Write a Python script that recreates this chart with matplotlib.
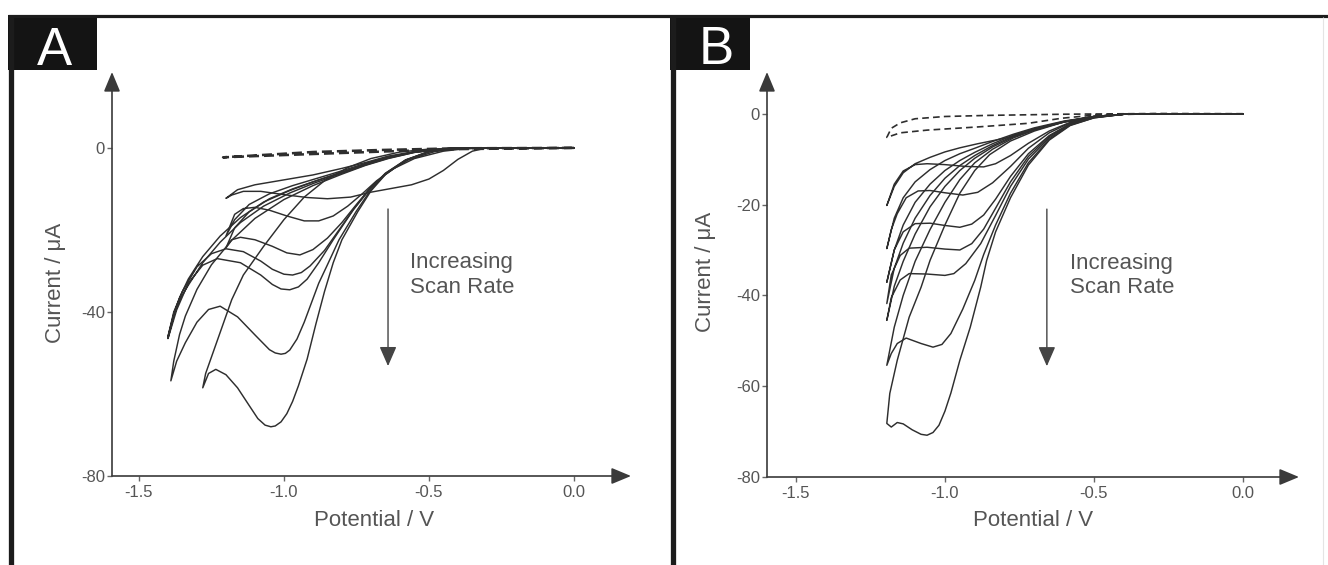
import matplotlib
matplotlib.use('Agg')
import matplotlib.pyplot as plt
from matplotlib.patches import Rectangle
from matplotlib.lines import Line2D

plt.rcParams['font.family'] = ['Liberation Sans', 'DejaVu Sans']

# ---------------- data: panel A (potential V, current uA) ----------------
A_blank_V = [0, -0.4, -0.66, -0.9, -1.21, -0.9, -0.66, -0.4, 0]
A_blank_I = [0, -0.3, -0.9, -1.5, -2.3, -1.0, -0.5, -0.1, 0]

A1_V = [0, -0.3, -0.35, -0.4, -0.45, -0.5, -0.56, -0.63, -0.7, -0.77, -0.85, -0.92, -1.0, -1.08, -1.14, -1.18, -1.2,
        -1.16, -1.1, -1.0, -0.9, -0.8, -0.72, -0.64, -0.55, -0.45, -0.3, 0]
A1_I = [0, 0, -0.8, -2.8, -5.5, -7.6, -9.0, -9.9, -10.8, -12.0, -12.4, -12.1, -11.4, -10.6, -10.6, -11.5, -12.3,
        -10.2, -9.0, -7.8, -6.6, -5.0, -3.6, -2.0, -0.9, -0.3, 0, 0]

A2_V = [0, -0.35, -0.45, -0.55, -0.62, -0.68, -0.73, -0.78, -0.83, -0.88, -0.93, -0.99, -1.05, -1.1, -1.14, -1.17, -1.2,
        -1.17, -1.12, -1.05, -0.97, -0.88, -0.8, -0.72, -0.64, -0.55, -0.45, -0.3, 0]
A2_I = [0, 0, -0.8, -2.6, -5.0, -8.0, -11.2, -14.2, -16.6, -17.8, -17.8, -16.6, -15.2, -14.5, -14.8, -16.2, -21.5,
        -17.5, -13.8, -11.2, -9.2, -7.3, -5.6, -3.8, -2.2, -1.0, -0.3, 0, 0]

A3_V = [0, -0.38, -0.48, -0.57, -0.64, -0.7, -0.75, -0.8, -0.85, -0.9, -0.945, -0.99, -1.04, -1.1, -1.15, -1.18, -1.2,
        -1.17, -1.12, -1.05, -0.97, -0.88, -0.8, -0.72, -0.64, -0.55, -0.45, -0.3, 0]
A3_I = [0, 0, -0.9, -2.9, -5.8, -9.6, -13.8, -18.2, -22.0, -24.8, -26.1, -25.6, -24.0, -22.4, -21.8, -22.4, -24.4,
        -19.5, -15.6, -12.4, -10.0, -7.8, -5.9, -4.0, -2.3, -1.0, -0.3, 0, 0]

A4_V = [0, -0.4, -0.5, -0.58, -0.65, -0.71, -0.76, -0.81, -0.86, -0.91, -0.94, -0.97, -1.0, -1.04, -1.08, -1.14, -1.2, -1.25,
        -1.3, -1.35, -1.38, -1.4,
        -1.38, -1.36, -1.33, -1.28, -1.22, -1.15, -1.07, -0.98, -0.9, -0.8, -0.72, -0.64, -0.55, -0.45, -0.3, 0]
A4_I = [0, 0, -1.0, -3.0, -6.2, -10.4, -15.0, -20.0, -25.0, -28.8, -30.4, -31.0, -30.8, -29.6, -27.6, -25.3, -24.6, -25.8,
        -29.0, -35.0, -40.0, -46.0,
        -40.5, -36.5, -32.0, -26.5, -21.5, -17.0, -13.2, -10.4, -8.3, -6.0, -4.1, -2.4, -1.0, -0.3, 0, 0]

A5_V = [0, -0.42, -0.5, -0.58, -0.65, -0.7, -0.76, -0.83, -0.88, -0.92, -0.95, -0.98, -1.01, -1.04, -1.08, -1.15, -1.23, -1.28,
        -1.33, -1.37, -1.4,
        -1.38, -1.36, -1.33, -1.28, -1.22, -1.15, -1.07, -0.98, -0.9, -0.8, -0.72, -0.64, -0.55, -0.45, -0.3, 0]
A5_I = [0, 0, -0.9, -2.9, -6.2, -9.8, -15.0, -22.4, -28.0, -32.0, -33.9, -34.6, -34.4, -33.3, -31.0, -28.0, -27.0, -28.6,
        -33.0, -39.5, -46.5,
        -41.0, -37.0, -33.5, -28.0, -23.0, -18.2, -14.2, -11.0, -8.7, -6.2, -4.2, -2.5, -1.1, -0.3, 0, 0]

A6_V = [0, -0.42, -0.5, -0.58, -0.65, -0.7, -0.75, -0.81, -0.85, -0.88, -0.91, -0.93, -0.955, -0.98, -0.995, -1.01, -1.03,
        -1.05, -1.1, -1.16, -1.22, -1.26, -1.3, -1.34, -1.37, -1.39,
        -1.38, -1.36, -1.34, -1.3, -1.25, -1.18, -1.1, -1.0, -0.9, -0.8, -0.72, -0.64, -0.55, -0.45, -0.3, 0]
A6_I = [0, 0, -0.9, -3.0, -6.4, -10.2, -15.4, -22.4, -28.5, -33.0, -38.7, -42.5, -46.6, -49.3, -50.1, -50.3, -50.0,
        -49.2, -45.6, -41.2, -38.6, -39.4, -42.5, -47.5, -52.0, -56.8,
        -52.0, -45.5, -41.0, -34.5, -28.5, -22.5, -17.2, -12.6, -9.2, -6.4, -4.3, -2.6, -1.1, -0.3, 0, 0]

A7_V = [0, -0.42, -0.5, -0.58, -0.65, -0.7, -0.745, -0.8, -0.83, -0.86, -0.89, -0.92, -0.95, -0.97, -0.99, -1.01, -1.03,
        -1.045, -1.065, -1.09, -1.12, -1.16, -1.2, -1.235, -1.26, -1.28,
        -1.27, -1.25, -1.22, -1.18, -1.14, -1.07, -1.0, -0.93, -0.86, -0.78, -0.7, -0.6, -0.5, -0.4, -0.3, 0]
A7_I = [0, 0, -0.9, -3.0, -6.5, -10.5, -15.5, -22.4, -28.0, -35.0, -43.0, -51.5, -58.0, -61.8, -64.8, -66.8, -67.8,
        -68.0, -67.6, -66.0, -62.8, -58.5, -55.3, -54.0, -55.0, -58.5,
        -55.0, -51.0, -45.0, -37.0, -31.0, -24.0, -17.5, -12.0, -8.0, -4.8, -2.6, -1.0, -0.3, -0.1, 0, 0]

# ---------------- data: panel B ----------------
B_blank_V = [0, -0.3, -0.6, -0.85, -1.0, -1.1, -1.15, -1.18, -1.195, -1.15, -1.06, -0.89, -0.72, -0.61, -0.5, -0.3, 0]
B_blank_I = [0, 0.05, -0.1, -0.35, -0.6, -1.1, -2.0, -3.2, -5.2, -4.2, -3.6, -2.9, -2.1, -1.0, -0.3, 0, 0]

B1_V = [0, -0.4, -0.5, -0.58, -0.65, -0.72, -0.78, -0.83, -0.87, -0.93, -1.0, -1.06, -1.1, -1.14, -1.17, -1.195,
        -1.17, -1.14, -1.1, -1.05, -1.0, -0.95, -0.89, -0.83, -0.78, -0.7, -0.67, -0.6, -0.56, -0.5, -0.4, 0]
B1_I = [0, -0.1, -0.7, -1.9, -3.8, -6.5, -9.2, -11.0, -11.7, -11.6, -11.2, -11.0, -11.2, -12.6, -15.5, -20.2,
        -16.0, -13.0, -11.0, -9.6, -8.4, -7.5, -6.6, -5.8, -5.1, -3.6, -2.9, -1.8, -1.4, -0.6, -0.1, 0]

B2_V = [0, -0.4, -0.5, -0.58, -0.65, -0.72, -0.78, -0.84, -0.89, -0.94, -1.0, -1.05, -1.09, -1.13, -1.16, -1.18, -1.195,
        -1.17, -1.14, -1.1, -1.05, -1.0, -0.95, -0.9, -0.84, -0.77, -0.7, -0.6, -0.5, -0.4, 0]
B2_I = [0, -0.1, -0.7, -2.0, -4.2, -7.6, -11.6, -15.2, -17.3, -17.9, -17.4, -16.9, -17.0, -18.5, -22.0, -25.5, -29.7,
        -23.0, -18.5, -15.0, -12.3, -10.3, -8.8, -7.6, -6.1, -4.5, -3.1, -1.6, -0.6, -0.1, 0]

B3_V = [0, -0.4, -0.5, -0.58, -0.65, -0.72, -0.78, -0.83, -0.87, -0.91, -0.95, -1.0, -1.05, -1.1, -1.14, -1.17, -1.195,
        -1.17, -1.14, -1.1, -1.05, -1.0, -0.95, -0.9, -0.84, -0.77, -0.7, -0.6, -0.5, -0.4, 0]
B3_I = [0, -0.1, -0.8, -2.2, -4.8, -8.8, -13.8, -18.8, -22.3, -24.3, -25.0, -24.6, -24.1, -24.2, -26.0, -30.0, -37.1,
        -30.0, -24.5, -19.5, -15.5, -12.5, -10.3, -8.5, -6.6, -4.7, -3.3, -1.7, -0.6, -0.1, 0]

B4_V = [0, -0.4, -0.5, -0.58, -0.65, -0.72, -0.78, -0.83, -0.87, -0.91, -0.95, -1.0, -1.06, -1.12, -1.15, -1.18, -1.195,
        -1.17, -1.14, -1.1, -1.05, -1.0, -0.95, -0.9, -0.84, -0.77, -0.7, -0.6, -0.5, -0.4, 0]
B4_I = [0, -0.1, -0.8, -2.3, -5.0, -9.4, -15.0, -20.8, -25.4, -28.6, -30.0, -29.8, -29.4, -29.6, -31.2, -35.5, -41.8,
        -34.0, -28.5, -23.0, -18.0, -14.2, -11.4, -9.2, -7.0, -4.9, -3.4, -1.7, -0.6, -0.1, 0]

B5_V = [0, -0.4, -0.5, -0.58, -0.65, -0.72, -0.78, -0.83, -0.88, -0.93, -0.97, -1.0, -1.06, -1.12, -1.15, -1.18, -1.195,
        -1.17, -1.14, -1.1, -1.05, -1.0, -0.95, -0.9, -0.84, -0.77, -0.7, -0.6, -0.5, -0.4, 0]
B5_I = [0, -0.1, -0.8, -2.4, -5.3, -10.0, -16.0, -22.4, -28.6, -33.0, -35.2, -35.6, -35.3, -35.2, -36.6, -40.5, -45.5,
        -38.0, -32.5, -26.5, -20.5, -16.0, -12.5, -9.8, -7.3, -5.1, -3.5, -1.8, -0.6, -0.1, 0]

B6_V = [0, -0.4, -0.5, -0.58, -0.65, -0.72, -0.78, -0.83, -0.87, -0.9, -0.94, -0.98, -1.01, -1.04, -1.08, -1.13, -1.16, -1.18, -1.195,
        -1.17, -1.14, -1.1, -1.05, -1.0, -0.95, -0.9, -0.84, -0.77, -0.7, -0.6, -0.5, -0.4, 0]
B6_I = [0, -0.1, -0.9, -2.5, -5.6, -10.8, -17.5, -24.5, -31.0, -36.7, -43.0, -48.4, -50.8, -51.4, -50.6, -49.4, -50.6, -52.8, -55.4,
        -47.0, -40.0, -32.5, -25.5, -19.5, -14.5, -10.8, -7.8, -5.3, -3.6, -1.8, -0.6, -0.1, 0]

B7_V = [0, -0.4, -0.5, -0.58, -0.65, -0.72, -0.78, -0.83, -0.86, -0.88, -0.915, -0.95, -0.98, -1.0, -1.02, -1.04, -1.06,
        -1.08, -1.11, -1.14, -1.16, -1.18, -1.195,
        -1.185, -1.16, -1.12, -1.08, -1.05, -1.0, -0.95, -0.9, -0.85, -0.78, -0.7, -0.6, -0.5, -0.4, 0]
B7_I = [0, -0.1, -0.9, -2.6, -5.8, -11.3, -18.5, -26.0, -32.3, -38.2, -47.0, -54.3, -61.5, -65.5, -68.6, -70.2, -70.8,
        -70.6, -69.6, -68.3, -68.0, -69.0, -68.2,
        -61.6, -54.3, -44.8, -38.2, -32.3, -24.5, -17.5, -12.5, -9.0, -6.0, -3.8, -1.8, -0.6, -0.1, 0]

# ---------------- ticks / labels ----------------
x_ticks = [-1.5, -1.0, -0.5, 0.0]
x_ticklabels = ['-1.5', '-1.0', '-0.5', '0.0']
A_yticks = [0, -40, -80]
A_yticklabels = ['0', '-40', '-80']
B_yticks = [0, -20, -40, -60, -80]
B_yticklabels = ['0', '-20', '-40', '-60', '-80']
x_label = 'Potential / V'
y_label = 'Current / \u03bcA'
arrow_text = 'Increasing\nScan Rate'
panel_letters = ['A', 'B']

A_curves = [(A1_V, A1_I), (A2_V, A2_I), (A3_V, A3_I), (A4_V, A4_I), (A5_V, A5_I), (A6_V, A6_I), (A7_V, A7_I)]
B_curves = [(B1_V, B1_I), (B2_V, B2_I), (B3_V, B3_I), (B4_V, B4_I), (B5_V, B5_I), (B6_V, B6_I), (B7_V, B7_I)]

# ---------------- figure ----------------
W, H = 1328, 565
fig = plt.figure(figsize=(W / 100, H / 100), dpi=100)
fig.patch.set_facecolor('white')


def fx(px):
    return px / W


def fy(py):
    return 1 - py / H


LINE_C = '#2e2e2e'
AXIS_C = '#3a3a3a'
TEXT_C = '#555555'


def make_axes(left, right, top, bottom, xlim, ylim, yticks, yticklabels):
    ax = fig.add_axes([fx(left), fy(bottom), (right - left) / W, (bottom - top) / H])
    ax.set_xlim(*xlim)
    ax.set_ylim(*ylim)
    ax.patch.set_alpha(0)
    for s in ax.spines.values():
        s.set_visible(False)
    ax.set_xticks(x_ticks)
    ax.set_xticklabels(x_ticklabels)
    ax.set_yticks(yticks)
    ax.set_yticklabels(yticklabels)
    ax.tick_params(direction='out', length=3.5, width=1.0, color='#666666',
                   labelsize=12, labelcolor=TEXT_C)
    ax.tick_params(axis='x', pad=3)
    ax.tick_params(axis='y', pad=1.5)
    arrow_kw = dict(arrowstyle='-|>,head_length=0.6,head_width=0.25', mutation_scale=20,
                    lw=1.2, color=AXIS_C, shrinkA=0, shrinkB=0)
    ax.annotate('', xy=(1, 0), xytext=(0, 0), xycoords='axes fraction',
                textcoords='axes fraction', arrowprops=arrow_kw, annotation_clip=False)
    ax.annotate('', xy=(0, 1), xytext=(0, 0), xycoords='axes fraction',
                textcoords='axes fraction', arrowprops=arrow_kw, annotation_clip=False)
    return ax


axA = make_axes(112, 631, 72, 476, (-1.593, 0.197), (-80, 18.5), A_yticks, A_yticklabels)
axB = make_axes(767, 1299, 72, 477, (-1.597, 0.188), (-80, 9.2), B_yticks, B_yticklabels)

# curves
axA.plot(A_blank_V, A_blank_I, color=LINE_C, lw=1.8, linestyle=(0, (4, 2)))
for V, I in A_curves:
    axA.plot(V, I, color=LINE_C, lw=1.05, solid_joinstyle='round')

axB.plot(B_blank_V, B_blank_I, color=LINE_C, lw=1.2, linestyle=(0, (4, 2.5)))
for V, I in B_curves:
    axB.plot(V, I, color=LINE_C, lw=1.05, solid_joinstyle='round')

# "Increasing Scan Rate" annotations
arr_kw = dict(arrowstyle='-|>,head_length=0.8,head_width=0.35', mutation_scale=15,
              lw=1.0, color='#444444', shrinkA=0, shrinkB=0)
axA.annotate('', xy=(-0.641, -53.2), xytext=(-0.641, -14.9), arrowprops=arr_kw)
axA.text(-0.566, -31.0, arrow_text, ha='left', va='center', fontsize=16, color=TEXT_C)
axB.annotate('', xy=(-0.658, -55.6), xytext=(-0.658, -21.0), arrowprops=arr_kw)
axB.text(-0.58, -35.6, arrow_text, ha='left', va='center', fontsize=16, color=TEXT_C)

# axis labels
fig.text(fx(374), fy(521), x_label, ha='center', va='center', fontsize=16, color=TEXT_C)
fig.text(fx(1033), fy(521), x_label, ha='center', va='center', fontsize=16, color=TEXT_C)
fig.text(fx(55), fy(283), y_label, ha='center', va='center', rotation=90, fontsize=16, color=TEXT_C)
fig.text(fx(706), fy(272), y_label, ha='center', va='center', rotation=90, fontsize=16, color=TEXT_C)

# panel frames
BORDER = '#1c1c1c'
fig.add_artist(Line2D([fx(8), fx(1328)], [fy(15.5), fy(15.5)], lw=2.3, color=BORDER, solid_capstyle='butt'))
fig.add_artist(Line2D([fx(11), fx(11)], [fy(15), fy(565)], lw=3.8, color=BORDER, solid_capstyle='butt'))
fig.add_artist(Line2D([fx(672.5), fx(672.5)], [fy(15), fy(565)], lw=3.8, color=BORDER, solid_capstyle='butt'))
fig.add_artist(Line2D([fx(1323), fx(1323)], [fy(17), fy(565)], lw=0.8, color='#e4e4e4', solid_capstyle='butt'))
fig.add_artist(Rectangle((fx(8), fy(70)), (97 - 8) / W, (70 - 15) / H, facecolor='#141414', edgecolor='none'))
fig.add_artist(Rectangle((fx(670), fy(70)), (750 - 670) / W, (70 - 15) / H, facecolor='#141414', edgecolor='none'))
fig.text(fx(54), fy(65), panel_letters[0], ha='center', va='baseline', fontsize=38, color='white',
         family=['Liberation Sans'], fontweight='normal')
fig.text(fx(716), fy(63.5), panel_letters[1], ha='center', va='baseline', fontsize=38, color='white',
         family=['Liberation Sans'], fontweight='normal')

fig.savefig('out.png', dpi=100)
